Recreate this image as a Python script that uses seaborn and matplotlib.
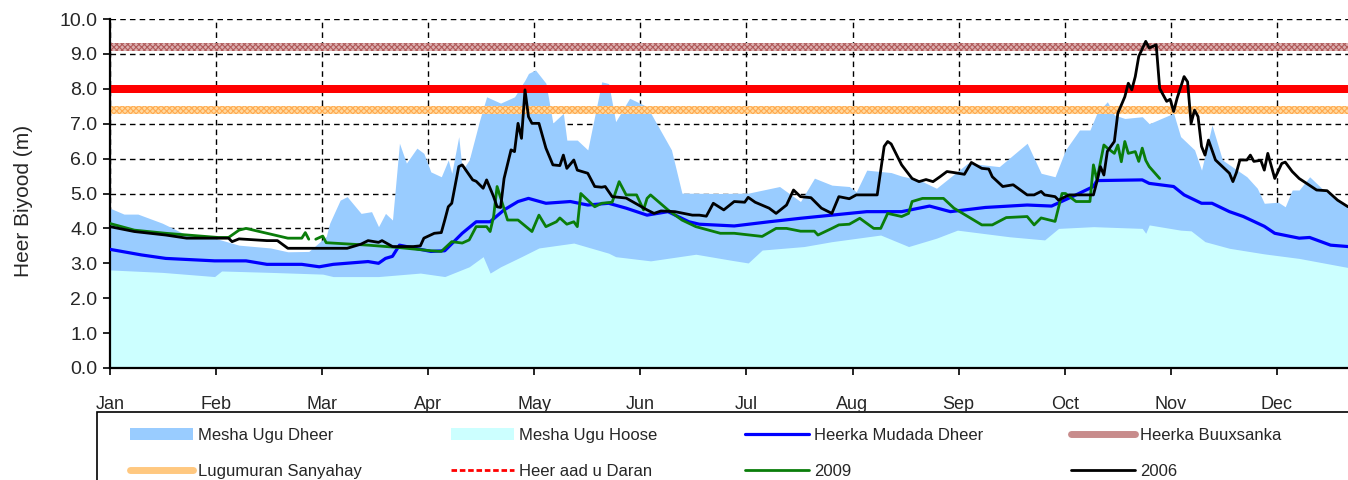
import numpy as np
import pandas as pd
import matplotlib.pyplot as plt
import seaborn as sns
from matplotlib.lines import Line2D
from matplotlib.patches import Patch, Rectangle

months = ['Jan', 'Feb', 'Mar', 'Apr', 'May', 'Jun', 'Jul', 'Aug', 'Sep', 'Oct', 'Nov', 'Dec']

# Mesha Ugu Dheer (maximum)
max_day = [0, 4, 8, 15, 22, 30, 37, 46, 51, 57, 62, 63, 66, 68, 72, 75, 77, 79, 81, 83,
           85, 88, 90, 92, 95, 97, 98, 100, 101, 103, 106, 108, 112, 116, 119, 120, 122, 125, 127, 130,
           131, 134, 137, 141, 143, 145, 149, 154, 161, 164, 175, 183, 192, 198, 202, 207, 212, 214, 217, 224,
           227, 232, 237, 246, 255, 263, 267, 271, 274, 278, 281, 283, 286, 288, 291, 296, 298, 305, 307, 311,
           313, 316, 319, 326, 329, 331, 335, 337, 339, 341, 344, 348, 355]
max_lvl = [4.58, 4.41, 4.41, 4.15, 3.81, 3.72, 3.52, 3.44, 3.33, 3.34, 3.77, 4.15, 4.81, 4.91, 4.43, 4.48, 4.05, 4.43, 4.24, 6.44,
           5.87, 6.30, 6.15, 5.62, 5.48, 5.96, 5.58, 6.63, 5.67, 5.96, 7.10, 7.77, 7.59, 7.77, 8.25, 8.44, 8.54, 8.16, 7.02, 7.30,
           6.53, 6.53, 6.25, 8.20, 8.15, 7.06, 7.73, 7.49, 6.25, 5.01, 5.00, 5.01, 5.20, 4.77, 5.44, 5.24, 5.20, 5.05, 5.67, 5.60,
           5.50, 5.39, 5.15, 5.87, 5.77, 6.44, 5.58, 5.48, 6.25, 6.82, 6.82, 7.30, 7.63, 7.25, 7.15, 7.20, 7.00, 7.30, 6.63, 6.25,
           5.67, 6.96, 5.96, 5.48, 5.15, 4.72, 4.75, 4.62, 5.10, 5.10, 5.48, 5.10, 4.62]

# Mesha Ugu Hoose (minimum)
min_day = [0, 15, 30, 32, 46, 61, 64, 77, 89, 96, 103, 107, 109, 112, 118, 123, 133, 143, 145, 155,
           168, 178, 183, 187, 199, 207, 221, 229, 237, 243, 258, 268, 272, 282, 296, 297, 298, 307, 310, 314,
           321, 331, 341, 355]
min_lvl = [2.81, 2.74, 2.62, 2.78, 2.74, 2.69, 2.62, 2.62, 2.72, 2.62, 2.90, 3.19, 2.72, 2.90, 3.19, 3.44, 3.58, 3.29, 3.19, 3.07,
           3.26, 3.09, 3.01, 3.38, 3.48, 3.62, 3.81, 3.48, 3.72, 3.95, 3.76, 3.67, 4.00, 4.05, 4.00, 3.86, 4.10, 3.95, 3.93, 3.62,
           3.43, 3.27, 3.14, 2.88]

# Heerka Mudada Dheer (long-term mean)
mean_day = [0, 9, 16, 30, 39, 45, 55, 60, 64, 74, 77, 79, 81, 83, 92, 96, 101, 105, 109, 113,
            117, 120, 125, 132, 137, 143, 148, 154, 160, 166, 169, 179, 189, 198, 207, 217, 227, 235, 241, 251,
            263, 270, 277, 282, 283, 296, 298, 305, 308, 313, 316, 321, 325, 331, 334, 341, 344, 350, 355]
mean_lvl = [3.40, 3.24, 3.14, 3.07, 3.07, 2.97, 2.97, 2.90, 2.97, 3.05, 3.00, 3.14, 3.20, 3.52, 3.34, 3.36, 3.86, 4.19, 4.19, 4.53,
            4.77, 4.86, 4.72, 4.77, 4.67, 4.72, 4.58, 4.38, 4.48, 4.19, 4.12, 4.07, 4.19, 4.29, 4.38, 4.48, 4.48, 4.64, 4.48, 4.60,
            4.67, 4.64, 4.96, 5.20, 5.37, 5.39, 5.29, 5.20, 4.96, 4.72, 4.72, 4.48, 4.34, 4.06, 3.86, 3.72, 3.74, 3.52, 3.48]

# 2009 (two pieces, there is a gap in the record end of February)
y2009_day_a = [0, 7, 16, 31, 34, 37, 39, 45, 51, 55, 56, 57]
y2009_lvl_a = [4.14, 3.95, 3.86, 3.74, 3.74, 3.95, 4.00, 3.86, 3.72, 3.72, 3.88, 3.69]
y2009_day_b = [59, 61, 62, 74, 83, 92, 95, 98, 101, 103, 105, 108, 109, 110, 111, 114, 117, 121, 123, 125,
               128, 129, 131, 133, 134, 135, 139, 141, 144, 146, 148, 151, 153, 154, 155, 160, 164, 168, 175, 179,
               187, 191, 194, 198, 202, 203, 207, 209, 212, 215, 219, 221, 223, 227, 229, 230, 233, 239, 242, 246,
               250, 253, 257, 263, 265, 267, 271, 273, 274, 277, 281, 282, 283, 285, 286, 288, 289, 290, 291, 292,
               294, 295, 296, 297, 298, 301]
y2009_lvl_b = [3.69, 3.78, 3.59, 3.52, 3.45, 3.36, 3.34, 3.62, 3.58, 3.67, 4.05, 4.05, 3.91, 4.34, 5.20, 4.24, 4.24, 3.91, 4.38, 4.05,
               4.19, 4.30, 4.12, 4.19, 4.05, 5.00, 4.62, 4.72, 4.75, 5.34, 4.96, 4.96, 4.53, 4.86, 4.96, 4.53, 4.24, 4.05, 3.86, 3.86,
               3.77, 4.00, 4.00, 3.92, 3.92, 3.81, 4.00, 4.10, 4.12, 4.29, 4.00, 4.00, 4.43, 4.34, 4.43, 4.77, 4.86, 4.86, 4.58, 4.34,
               4.10, 4.10, 4.31, 4.34, 4.10, 4.30, 4.20, 5.00, 5.00, 4.77, 4.77, 5.82, 5.39, 6.39, 6.30, 6.15, 6.39, 5.91, 6.49, 6.15,
               6.20, 5.92, 6.30, 5.95, 5.77, 5.43]

# 2006
y2006_day = [0, 7, 16, 22, 34, 35, 37, 45, 48, 51, 68, 72, 74, 77, 78, 81, 87, 89, 90, 93,
             95, 96, 97, 98, 100, 101, 104, 105, 107, 108, 110, 111, 112, 113, 115, 116, 117, 118, 119, 120,
             121, 123, 125, 127, 129, 130, 131, 133, 134, 137, 139, 141, 142, 144, 148, 154, 156, 158, 162, 167,
             169, 171, 173, 176, 179, 182, 183, 185, 189, 191, 194, 196, 198, 201, 204, 207, 209, 212, 214, 220,
             222, 223, 224, 227, 230, 232, 234, 236, 238, 240, 242, 245, 247, 250, 252, 253, 256, 259, 263, 265,
             267, 268, 271, 272, 275, 282, 283, 284, 285, 286, 288, 289, 291, 292, 293, 294, 295, 297, 298, 300,
             301, 303, 304, 305, 306, 308, 309, 310, 311, 312, 313, 314, 315, 317, 319, 321, 322, 323, 324, 326,
             327, 328, 330, 331, 332, 334, 336, 337, 339, 341, 346, 349, 352, 355]
y2006_lvl = [4.05, 3.91, 3.81, 3.72, 3.72, 3.62, 3.70, 3.65, 3.65, 3.43, 3.43, 3.55, 3.65, 3.60, 3.65, 3.48, 3.48, 3.50, 3.72, 3.86,
             3.88, 4.24, 4.62, 4.72, 5.77, 5.82, 5.39, 5.35, 5.15, 5.39, 4.91, 4.62, 4.60, 5.43, 6.25, 6.20, 7.01, 6.58, 7.97, 7.20,
             7.01, 7.01, 6.30, 5.82, 5.80, 6.10, 5.72, 5.96, 5.67, 5.58, 5.20, 5.18, 5.20, 4.91, 4.87, 4.53, 4.43, 4.50, 4.48, 4.38,
             4.38, 4.35, 4.72, 4.53, 4.77, 4.75, 4.89, 4.75, 4.58, 4.43, 4.67, 5.10, 4.91, 4.88, 4.58, 4.43, 4.91, 4.85, 4.96, 4.96,
             6.35, 6.49, 6.42, 5.82, 5.43, 5.34, 5.40, 5.34, 5.48, 5.63, 5.60, 5.55, 5.89, 5.72, 5.70, 5.48, 5.20, 5.25, 4.96, 4.96,
             5.06, 4.96, 4.91, 4.81, 4.96, 4.96, 5.34, 5.77, 5.53, 6.21, 6.49, 7.30, 7.77, 8.16, 7.97, 8.35, 8.93, 9.36, 9.17, 9.26,
             8.01, 7.64, 7.70, 7.35, 7.73, 8.35, 8.20, 7.01, 7.39, 7.20, 6.35, 6.10, 6.53, 5.96, 5.77, 5.58, 5.34, 5.60, 5.96, 5.96,
             6.10, 5.92, 5.95, 5.67, 6.15, 5.43, 5.86, 5.90, 5.63, 5.43, 5.10, 5.08, 4.81, 4.62]

# threshold levels (m): bottom / top of each band
buuxsanka = (9.07, 9.31)
daran = (7.89, 8.11)
sanyahay = (7.28, 7.51)

sns.set_theme(style='white')
plt.rcParams['font.family'] = ['Liberation Sans', 'DejaVu Sans']
plt.rcParams['hatch.linewidth'] = 0.8

fig = plt.figure(figsize=(13.48, 4.8), dpi=100)
ax = fig.add_axes([110 / 1348, 1 - 368 / 480, 1 - 110 / 1348, (368 - 19) / 480])

# areas
ax.fill_between(max_day, 0, max_lvl, color='#99ccff', lw=0, zorder=1)
ax.fill_between(min_day, 0, min_lvl, color='#ccffff', lw=0, zorder=1.1)

# threshold bands
ax.axhspan(*buuxsanka, facecolor='#dcb0b0', edgecolor='#b05a5a', hatch='xxxxxx', lw=0, zorder=2)
ax.axhspan(*sanyahay, facecolor='#ffd9a0', edgecolor='#ffaa50', hatch='xxxxxx', lw=0, zorder=2)
ax.axhspan(*daran, facecolor='#ff0000', lw=0, zorder=2)

# lines
df_mean = pd.DataFrame({'day': mean_day, 'lvl': mean_lvl})
df_a = pd.DataFrame({'day': y2009_day_a, 'lvl': y2009_lvl_a})
df_b = pd.DataFrame({'day': y2009_day_b, 'lvl': y2009_lvl_b})
df_06 = pd.DataFrame({'day': y2006_day, 'lvl': y2006_lvl})

sns.lineplot(data=df_mean, x='day', y='lvl', color='#0000ff', lw=2.3, ax=ax, zorder=3)
sns.lineplot(data=df_a, x='day', y='lvl', color='#0a7d0a', lw=2.0, ax=ax, zorder=3.1)
sns.lineplot(data=df_b, x='day', y='lvl', color='#0a7d0a', lw=2.0, ax=ax, zorder=3.1)
sns.lineplot(data=df_06, x='day', y='lvl', color='black', lw=2.0, ax=ax, zorder=3.2)

# axes
month_pos = np.arange(12) * 365 / 12
ax.set_xlim(0, 355)
ax.set_ylim(0, 10)
ax.set_xticks(month_pos)
ax.set_xticklabels(months)
ax.set_yticks(np.arange(0, 10.1, 1))
ax.set_yticklabels([f'{v:.1f}' for v in np.arange(0, 10.1, 1)])
ax.set_axisbelow(True)
ax.grid(True, color='black', linestyle=(0, (4, 3)), lw=1.0)
ax.set_xlabel('')
ax.set_ylabel('Heer Biyood (m)', fontsize=15)
ax.yaxis.set_label_coords(-0.062, 0.48)

for s in ['top', 'right']:
    ax.spines[s].set_visible(False)
for s in ['left', 'bottom']:
    ax.spines[s].set_color('black')
    ax.spines[s].set_linewidth(1.6)

ax.tick_params(axis='x', direction='out', length=5, width=1.2, color='black', pad=15, labelsize=13)
ax.tick_params(axis='y', direction='out', length=5, width=1.2, color='black', pad=4, labelsize=14)
ax.xaxis.set_ticks_position('bottom')
ax.yaxis.set_ticks_position('left')

# legend: box drawn separately, entries placed inside it
fig.add_artist(Rectangle((97 / 1348, -0.05), 1.0, 1 - 412 / 480 + 0.05, transform=fig.transFigure,
                         facecolor='white', edgecolor='black', lw=1.2, zorder=0))

h_max = Patch(facecolor='#99ccff', edgecolor='none')
h_min = Patch(facecolor='#ccffff', edgecolor='none')
h_mean = Line2D([], [], color='#0000ff', lw=2.3)
h_buux = Line2D([], [], color='#c88c8c', lw=5)
h_sany = Line2D([], [], color='#ffc880', lw=5)
h_daran = Line2D([], [], color='#ff0000', lw=2, linestyle=(0, (2, 1)))
h_09 = Line2D([], [], color='#0a7d0a', lw=2.0)
h_06 = Line2D([], [], color='black', lw=2.0)

handles = [h_max, h_sany, h_min, h_daran, h_mean, h_09, h_buux, h_06]
labels = ['Mesha Ugu Dheer', 'Lugumuran Sanyahay', 'Mesha Ugu Hoose', 'Heer aad u Daran',
          'Heerka Mudada Dheer', '2009', 'Heerka Buuxsanka', '2006']
leg = fig.legend(handles, labels, loc='upper left', bbox_to_anchor=(130 / 1348, 1 - 428 / 480),
                 ncol=4, frameon=False, fontsize=12, handlelength=3.8, handletextpad=0.3,
                 labelspacing=1.25, columnspacing=5.3, borderpad=0, borderaxespad=0)

fig.savefig('out.png', dpi=100)
